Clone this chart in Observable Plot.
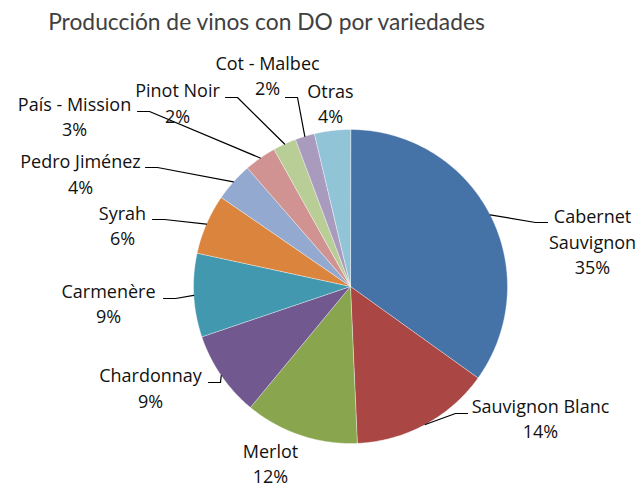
<!DOCTYPE html>
<html>
<head>
<meta charset="utf-8">
<script src="https://cdn.jsdelivr.net/npm/d3@7"></script>
<script src="https://cdn.jsdelivr.net/npm/@observablehq/plot@0.6"></script>
<style>
  html, body { margin: 0; padding: 0; background: #fff; }
  #chart svg { display: block; }
</style>
</head>
<body>
<div id="chart"></div>
<script>
// ---- data ----
const title = "Producción de vinos con DO por variedades";
const categories = ["Cabernet Sauvignon", "Sauvignon Blanc", "Merlot", "Chardonnay", "Carmenère", "Syrah",
  "Pedro Jiménez", "País - Mission", "Pinot Noir", "Cot - Malbec", "Otras"];
const shares = [34.9, 14.4, 11.7, 8.8, 8.6, 6.2, 4.0, 3.3, 2.4, 2.0, 3.7];
const colors = ["#4572A7", "#AA4643", "#89A54E", "#71588F", "#4198AF", "#DB843D",
  "#93A9CF", "#D19392", "#B9CD96", "#A99BBD", "#92C4D8"];

// ---- layout (chart units = pixels) ----
const W = 639, H = 489;
const cx = 350, cy = 286, R = 157;
const labelPos = [[592, 240], [540, 417], [270, 462], [150, 386.5], [108, 302], [122, 224],
  [80, 172.5], [74, 115], [177, 101.5], [267, 74], [330, 102]];
const leaderEnd = [[547, 222], [467, 413], null, [208, 382], [163, 298], [152, 219],
  [145, 167], [137, 111], [225, 97], [285, 97], null];

// ---- derived geometry ----
const arcs = d3.pie().sort(null).value(d => d)(shares);
const pt = (a, r) => [cx + r * Math.sin(a), cy - r * Math.cos(a)];
const slicePts = [];
arcs.forEach((a, i) => {
  slicePts.push({name: categories[i], x: cx, y: cy});
  const n = Math.max(2, Math.ceil((a.endAngle - a.startAngle) / 0.01));
  for (let k = 0; k <= n; k++) {
    const t = a.startAngle + (a.endAngle - a.startAngle) * k / n;
    const [x, y] = pt(t, R);
    slicePts.push({name: categories[i], x, y});
  }
});
const leaderPts = [];
arcs.forEach((a, i) => {
  const e = leaderEnd[i];
  if (!e) return;
  const mid = (a.startAngle + a.endAngle) / 2;
  const [sx, sy] = pt(mid, R);
  const elbowX = e[0] > cx ? e[0] - 12 : e[0] + 12;
  leaderPts.push({name: categories[i], x: sx, y: sy});
  leaderPts.push({name: categories[i], x: elbowX, y: e[1]});
  leaderPts.push({name: categories[i], x: e[0], y: e[1]});
});
const labels = categories.map((c, i) => ({
  text: (i === 0 ? c.replace(" ", "\n") : c) + "\n" + Math.round(shares[i]) + "%",
  x: labelPos[i][0], y: labelPos[i][1]
}));

const chart = Plot.plot({
  width: W, height: H,
  margin: 0,
  style: {fontFamily: "'Open Sans', sans-serif", background: "#fff"},
  x: {domain: [0, W], range: [0, W], axis: null},
  y: {domain: [0, H], range: [0, H], axis: null},
  color: {domain: categories, range: colors},
  marks: [
    Plot.line(slicePts, {x: "x", y: "y", z: "name", fill: "name", stroke: "#ffffff",
      strokeWidth: 0.6, strokeOpacity: 0.7, curve: "linear-closed"}),
    Plot.line(leaderPts, {x: "x", y: "y", z: "name", stroke: "#000", strokeWidth: 1.2, fill: "none"}),
    Plot.text(labels, {x: "x", y: "y", text: "text", textAnchor: "middle", lineAnchor: "middle",
      lineHeight: 1.4, fontSize: 18, fill: "#111"}),
    Plot.text([title], {frameAnchor: "top-left", dx: 266, dy: 22, textAnchor: "middle", lineAnchor: "middle",
      fontSize: 22.8, fontFamily: "Lato, sans-serif", fill: "#404040"})
  ]
});
document.getElementById("chart").append(chart);
</script>
</body>
</html>
